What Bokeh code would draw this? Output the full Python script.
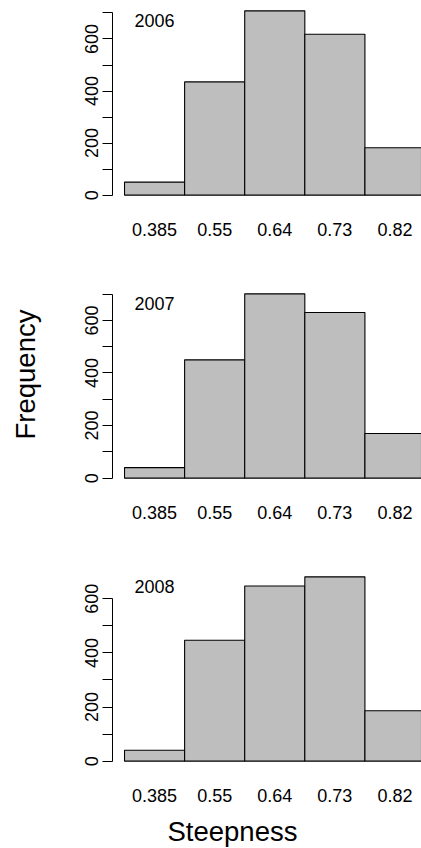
from bokeh.plotting import figure
from bokeh.layouts import column
from bokeh.models import FixedTicker, Label, Range1d, Title
from bokeh.embed import file_html
from bokeh.resources import INLINE

# ---- data ----
bin_labels = ["0.385", "0.55", "0.64", "0.73", "0.82"]
years = ["2006", "2007", "2008"]
counts_2006 = [50, 435, 708, 618, 182]
counts_2007 = [40, 450, 701, 630, 170]
counts_2008 = [40, 447, 647, 681, 186]
y_major_ticks = [0, 200, 400, 600]
y_minor_ticks = [100, 300, 500, 700]
x_label = "Steepness"
y_label = "Frequency"

FONT = "Liberation Sans"
FILL = "#BEBEBE"

# ---- layout constants (pixels) ----
W = 421
BORDER_LEFT = 112
PX_PER_BIN = 60.1
X_START = -0.7
EXT = 0.04

panels = [
    dict(counts=counts_2006, year=years[0], h=286, bt=3, bb=84),
    dict(counts=counts_2007, year=years[1], h=283, bt=0, bb=84),
    dict(counts=counts_2008, year=years[2], h=279, bt=0, bb=80),
]

frame_w = W - BORDER_LEFT
x_end = X_START + frame_w / PX_PER_BIN
xs = list(range(len(bin_labels)))


def spacer(size):
    return Title(text=" ", text_font_size="1px", standoff=size, text_color="white")


figs = []
for i, pd_ in enumerate(panels):
    counts = pd_["counts"]
    M = max(counts)
    y0 = -EXT * M
    y1 = (1 + EXT) * M

    p = figure(width=W, height=pd_["h"], output_backend="svg", toolbar_location=None,
               x_range=Range1d(X_START, x_end), y_range=Range1d(y0, y1),
               min_border_left=BORDER_LEFT, min_border_right=0,
               min_border_top=pd_["bt"], min_border_bottom=pd_["bb"])
    p.outline_line_color = None
    p.xgrid.visible = False
    p.ygrid.visible = False
    p.background_fill_color = "white"
    p.border_fill_color = "white"

    p.vbar(x=xs, top=counts, bottom=0, width=1.0, fill_color=FILL,
           line_color="black", line_width=1.1)

    # y axis
    all_ticks = [t for t in (y_major_ticks + y_minor_ticks) if t <= M]
    top_tick = max(all_ticks)
    ya = p.yaxis[0]
    ya.ticker = FixedTicker(ticks=[t for t in y_major_ticks if t <= M],
                            minor_ticks=[t for t in y_minor_ticks if t <= M])
    ya.bounds = (0, top_tick)
    ya.axis_line_color = "black"
    ya.axis_line_width = 1
    ya.major_tick_out = 10
    ya.major_tick_in = 0
    ya.minor_tick_out = 10
    ya.minor_tick_in = 0
    ya.major_tick_line_color = "black"
    ya.minor_tick_line_color = "black"
    ya.major_label_orientation = "vertical"
    ya.major_label_standoff = 4
    ya.major_label_text_font = FONT
    ya.major_label_text_font_size = "18px"
    ya.major_label_text_color = "black"

    # x axis (labels only)
    xa = p.xaxis[0]
    xa.ticker = FixedTicker(ticks=xs, minor_ticks=[])
    xa.major_label_overrides = {x: lab for x, lab in zip(xs, bin_labels)}
    xa.axis_line_color = None
    xa.major_tick_line_color = None
    xa.minor_tick_line_color = None
    xa.major_tick_out = 0
    xa.major_tick_in = 0
    xa.major_label_standoff = 20
    xa.major_label_text_font = FONT
    xa.major_label_text_font_size = "18px"
    xa.major_label_text_color = "black"

    # year label
    p.add_layout(Label(x=0, y=0.95 * M, text=pd_["year"], text_align="center",
                       text_baseline="middle", text_font=FONT,
                       text_font_size="18px", text_color="black"))

    if i == 1:
        p.add_layout(spacer(39), "left")
        p.add_layout(Title(text=y_label, align="left", offset=46, standoff=0,
                           text_font=FONT, text_font_size="27.5px",
                           text_font_style="normal", text_color="black"), "left")
    if i == 2:
        p.add_layout(spacer(6), "below")
        p.add_layout(Title(text=x_label, align="left", offset=55, standoff=0,
                           text_font=FONT, text_font_size="27.5px",
                           text_font_style="normal", text_color="black"), "below")
    figs.append(p)

layout = column(*figs, spacing=0)
open("out.html", "w").write(file_html(layout, INLINE))
